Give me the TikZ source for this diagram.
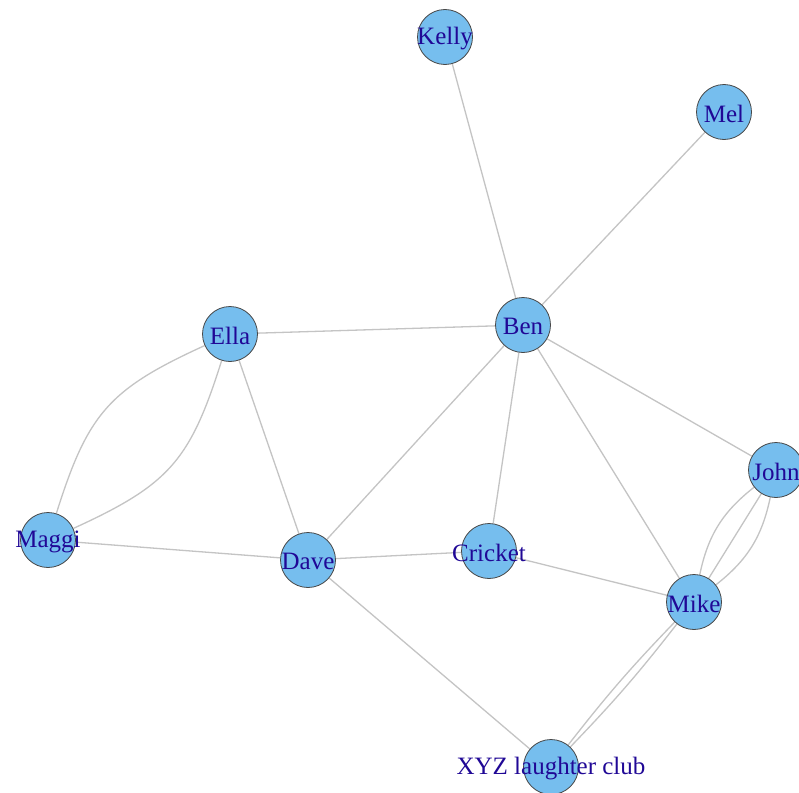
\documentclass[tikz,border=0pt]{standalone}
\usepackage{fontspec}
\setmainfont{Liberation Serif}
\usetikzlibrary{backgrounds}
\definecolor{vfill}{RGB}{118,190,238}
\definecolor{vtext}{RGB}{32,8,150}
\definecolor{edgegray}{RGB}{196,196,196}
\tikzset{
  vertex/.style={circle, draw=black!72, line width=0.8pt, fill=vfill,
                 minimum size=55pt, inner sep=0pt},
  vlabel/.style={text=vtext, font=\fontsize{25}{30}\selectfont, inner sep=0pt,
                 yshift=-1.5pt},
  edge/.style={draw=edgegray, line width=1.3pt}
}
\begin{document}
\begin{tikzpicture}[x=1pt, y=-1pt]
  \useasboundingbox (0,0) rectangle (799,792);

  % vertices
  \node[vertex, label={[vlabel]center:Kelly}]   (kelly)   at (445,37)  {};
  \node[vertex, label={[vlabel]center:Mel}]     (mel)     at (724,112) {};
  \node[vertex, label={[vlabel]center:Ben}]     (ben)     at (523,325) {};
  \node[vertex, label={[vlabel]center:Ella}]    (ella)    at (230,334) {};
  \node[vertex, label={[vlabel]center:John}]    (john)    at (776,470) {};
  \node[vertex, label={[vlabel]center:Maggi}]   (maggi)   at (48,540)  {};
  \node[vertex, label={[vlabel]center:Dave}]    (dave)    at (308,560) {};
  \node[vertex, label={[vlabel]center:Cricket}] (cricket) at (489,551) {};
  \node[vertex, label={[vlabel]center:Mike}]    (mike)    at (694,602) {};
  \node[vertex, label={[vlabel]center:XYZ laughter club}] (xyz) at (551,767) {};

  % white page, then the edges, all kept under the vertices
  \begin{pgfonlayer}{background}
    \fill[white] (0,0) rectangle (799,792);
    \draw[edge] (kelly) -- (ben);
    \draw[edge] (mel) -- (ben);
    \draw[edge] (ella) -- (ben);
    \draw[edge] (ben) -- (dave);
    \draw[edge] (ben) -- (cricket);
    \draw[edge] (ben) -- (mike);
    \draw[edge] (ben) -- (john);
    \draw[edge] (ella) -- (dave);
    \draw[edge] (maggi) -- (dave);
    \draw[edge] (dave) -- (cricket);
    \draw[edge] (dave) -- (xyz);
    \draw[edge] (cricket) -- (mike);
    \draw[edge] (maggi) to[bend left=24, looseness=1.2] (ella);
    \draw[edge] (maggi) to[bend right=24, looseness=1.2] (ella);
    \draw[edge] (mike) -- (john);
    \draw[edge] (mike) to[bend left=20] (john);
    \draw[edge] (mike) to[bend right=20] (john);
    \draw[edge] (xyz) to[bend left=3] (mike);
    \draw[edge] (xyz) to[bend right=3] (mike);
  \end{pgfonlayer}
\end{tikzpicture}
\end{document}
